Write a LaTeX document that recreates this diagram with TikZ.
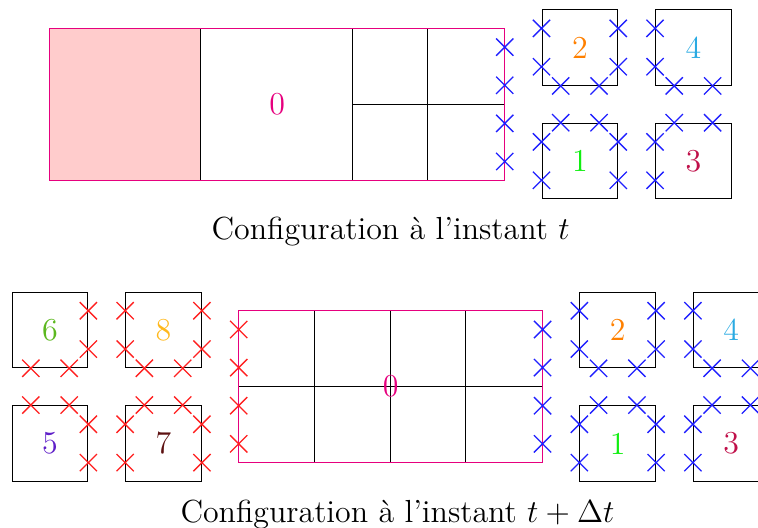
\documentclass[tikz,border=0pt]{standalone}
\usetikzlibrary{shapes.misc,calc}
\definecolor{mag}{HTML}{E6007E}
\definecolor{pinkfill}{HTML}{FFCCCC}
\definecolor{cTwo}{HTML}{FF8000}
\definecolor{cFour}{HTML}{29AAE2}
\definecolor{cOne}{HTML}{11EE11}
\definecolor{cThree}{HTML}{C0104A}
\definecolor{cSix}{HTML}{5CB81F}
\definecolor{cEight}{HTML}{FFB81C}
\definecolor{cFive}{HTML}{5F1FC8}
\definecolor{cSeven}{HTML}{5C1010}
\definecolor{xblue}{HTML}{2020FF}
\definecolor{xred}{HTML}{FF2020}
\newcommand\mkL[2]{\node[#1] at ($(#2.north west)!0.25!(#2.south west)$) {};\node[#1] at ($(#2.north west)!0.75!(#2.south west)$) {};}
\newcommand\mkR[2]{\node[#1] at ($(#2.north east)!0.25!(#2.south east)$) {};\node[#1] at ($(#2.north east)!0.75!(#2.south east)$) {};}
\newcommand\mkT[2]{\node[#1] at ($(#2.north west)!0.25!(#2.north east)$) {};\node[#1] at ($(#2.north west)!0.75!(#2.north east)$) {};}
\newcommand\mkB[2]{\node[#1] at ($(#2.south west)!0.25!(#2.south east)$) {};\node[#1] at ($(#2.south west)!0.75!(#2.south east)$) {};}
\newcommand\mkSide[3]{\foreach \f in {0.125,0.375,0.625,0.875}{\node[#1] at ($(#2.north #3)!\f!(#2.south #3)$) {};}}
\begin{document}
\begin{tikzpicture}[x=1cm,y=1cm,font=\large,
  cell/.style={draw=black,line width=0.4pt,minimum size=1cm,inner sep=0pt},
  bx/.style={cross out,draw=xblue,minimum size=0.21cm,inner sep=0pt,line width=0.5pt},
  rx/.style={cross out,draw=xred,minimum size=0.21cm,inner sep=0pt,line width=0.5pt},
  big/.style={minimum height=2cm,inner sep=0pt,text=mag}]
\useasboundingbox (-0.6605,-4.597) rectangle (9.353,2.378);
% ---------- top configuration ----------
\node[big,minimum width=6cm] (R1) at (3,1) {};
\fill[pinkfill] (R1.south west) rectangle ($(R1.north west)+(2,0)$);
\draw[black] ($(R1.south west)+(2,0)$) -- ($(R1.north west)+(2,0)$);
\draw[black] ($(R1.south west)+(4,0)$) -- ($(R1.north west)+(4,0)$);
\draw[black] ($(R1.south west)+(5,0)$) -- ($(R1.north west)+(5,0)$);
\draw[black] ($(R1.west)+(4,0)$) -- (R1.east);
\draw[mag] (R1.south west) rectangle (R1.north east);
\node[text=mag] (z1) at (3,1) {0};
\mkSide{bx}{R1}{east}
\node[cell,text=cTwo] (t2) at (7,1.75) {2};
\node[cell,text=cFour] (t4) at (8.5,1.75) {4};
\node[cell,text=cOne] (t1) at (7,0.25) {1};
\node[cell,text=cThree] (t3) at (8.5,0.25) {3};
\mkL{bx}{t2}\mkR{bx}{t2}\mkB{bx}{t2}
\mkL{bx}{t4}\mkB{bx}{t4}
\mkL{bx}{t1}\mkR{bx}{t1}\mkT{bx}{t1}
\mkL{bx}{t3}\mkT{bx}{t3}
\node[anchor=base] (cap1) at (4.5,-0.79) {Configuration à l'instant $t$};
% ---------- bottom configuration ----------
\def\yc{-2.73}
\node[big,minimum width=4cm] (R2) at (4.5,\yc) {};
\foreach \d in {1,2,3}{\draw[black] ($(R2.south west)+(\d,0)$) -- ($(R2.north west)+(\d,0)$);}
\draw[black] (R2.west) -- (R2.east);
\draw[mag] (R2.south west) rectangle (R2.north east);
\node[text=mag] (z2) at (R2.center) {0};
\mkSide{rx}{R2}{west}
\mkSide{bx}{R2}{east}
\node[cell,text=cSix] (b6) at (0,\yc+0.75) {6};
\node[cell,text=cEight] (b8) at (1.5,\yc+0.75) {8};
\node[cell,text=cFive] (b5) at (0,\yc-0.75) {5};
\node[cell,text=cSeven] (b7) at (1.5,\yc-0.75) {7};
\mkR{rx}{b6}\mkB{rx}{b6}
\mkL{rx}{b8}\mkR{rx}{b8}\mkB{rx}{b8}
\mkR{rx}{b5}\mkT{rx}{b5}
\mkL{rx}{b7}\mkR{rx}{b7}\mkT{rx}{b7}
\node[cell,text=cTwo] (u2) at (7.5,\yc+0.75) {2};
\node[cell,text=cFour] (u4) at (9,\yc+0.75) {4};
\node[cell,text=cOne] (u1) at (7.5,\yc-0.75) {1};
\node[cell,text=cThree] (u3) at (9,\yc-0.75) {3};
\mkL{bx}{u2}\mkR{bx}{u2}\mkB{bx}{u2}
\mkL{bx}{u4}\mkB{bx}{u4}
\mkL{bx}{u1}\mkR{bx}{u1}\mkT{bx}{u1}
\mkL{bx}{u3}\mkT{bx}{u3}
\node[anchor=base] (cap2) at (4.59,-4.52) {Configuration à l'instant $t+\Delta t$};
\end{tikzpicture}
\end{document}
